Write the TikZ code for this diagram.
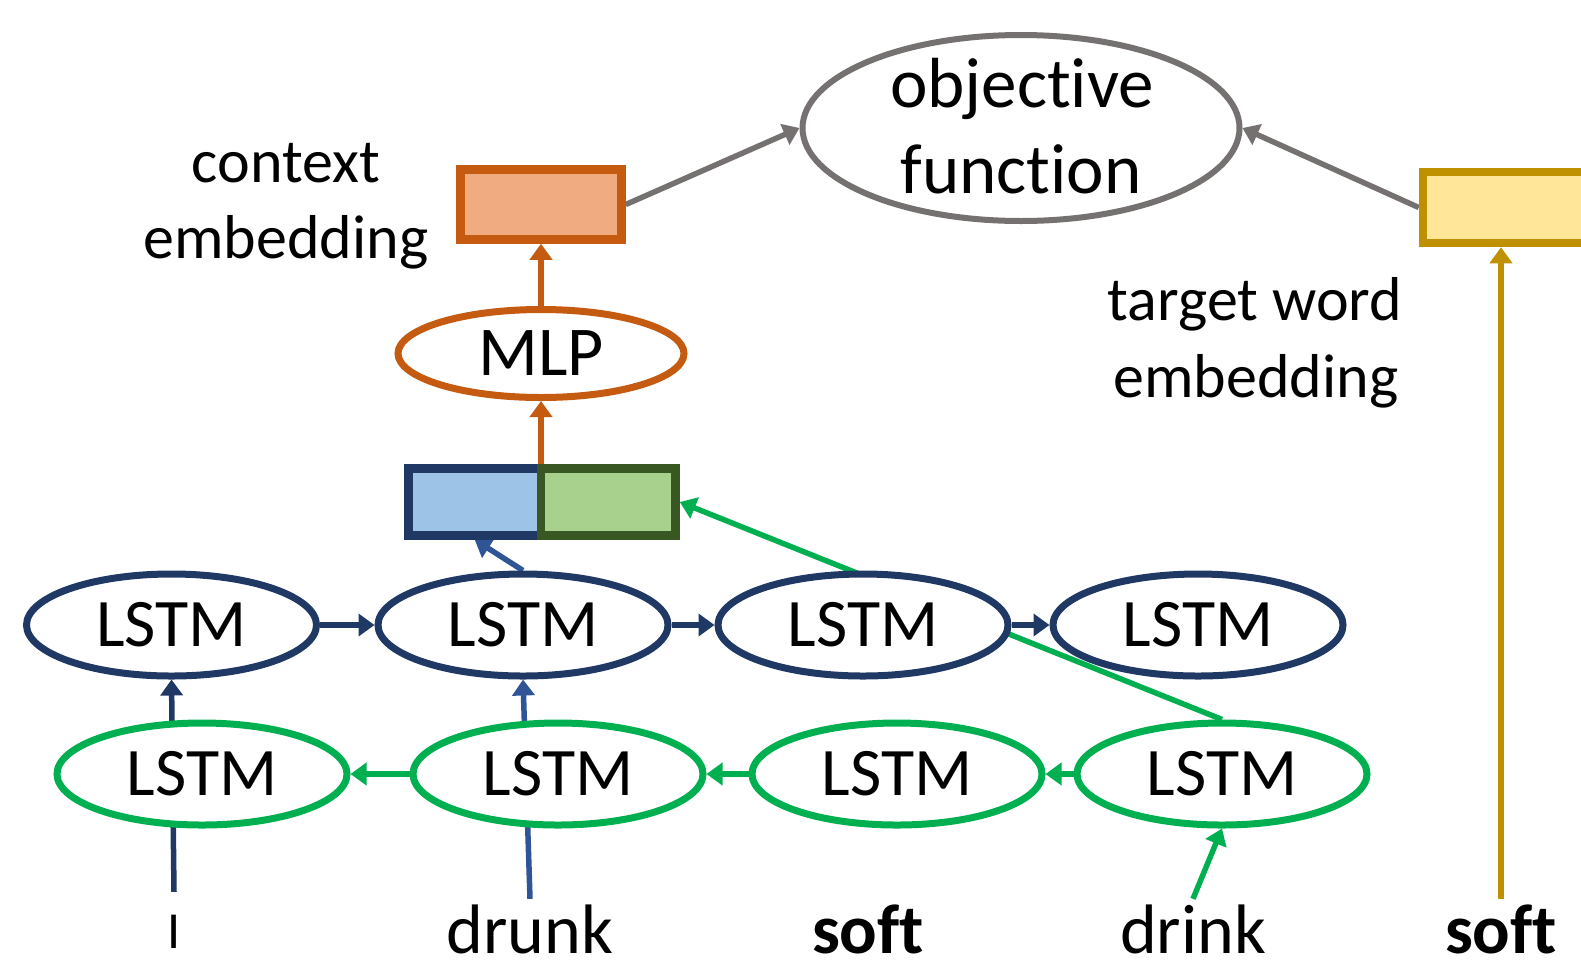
\documentclass[tikz,border=0pt]{standalone}
\usepackage{fontspec}
\setmainfont{Carlito}[Ligatures=NoCommon]
\usetikzlibrary{arrows.meta,shapes.geometric,backgrounds,calc}
\definecolor{navy}{HTML}{203864}
\definecolor{midblue}{HTML}{2F5597}
\definecolor{lgreen}{HTML}{00B050}
\definecolor{dgreen}{HTML}{385723}
\definecolor{orng}{HTML}{C55A11}
\definecolor{orngfill}{HTML}{F0AC80}
\definecolor{gry}{HTML}{767171}
\definecolor{gold}{HTML}{BF9000}
\definecolor{goldfill}{HTML}{FFE699}
\definecolor{bfill}{HTML}{9DC3E6}
\definecolor{gfill}{HTML}{A9D18E}
\begin{document}
\begin{tikzpicture}[x=1pt,y=-1pt,
  ell/.style={ellipse,draw,line width=7pt,fill=white,inner sep=0pt,
    minimum width=290pt,minimum height=102pt,font=\fontsize{68}{80}\selectfont},
  bl/.style={ell,draw=navy},
  gl/.style={ell,draw=lgreen},
  word/.style={font=\fontsize{70}{84}\selectfont,anchor=base,inner sep=6pt,text height=48pt,text depth=0pt},
  lab/.style={font=\fontsize{62}{75}\selectfont,anchor=base,inner sep=0pt},
  objlab/.style={font=\fontsize{71}{84}\selectfont,anchor=base,inner sep=0pt},
  boxs/.style={draw,line width=8.5pt,inner sep=0pt},
  arr/.style={line width=5.5pt,-{Triangle[length=16pt,width=22pt]}},
]
\clip (0,0) rectangle (1581,970);
\useasboundingbox (0,0) rectangle (1581,970);

% top
\node[ell,draw=gry,line width=6pt,minimum width=437pt,minimum height=186pt] (obj) at (1021,128) {};
\node[objlab] (obj1) at (1022,107) {objective};
\node[objlab] (obj2) at (1021,193) {function};

\node[boxs,draw=orng,fill=orngfill,minimum width=161pt,minimum height=70pt] (ctx) at (541,204.5) {};
\node[lab] (ctx1) at (286,182) {context};
\node[lab] (ctx2) at (286,258) {embedding};

\node[boxs,draw=gold,fill=goldfill,minimum width=174pt,minimum height=71pt] (ybox) at (1510,207.5) {};
\node[lab] (tw1) at (1255,320) {target word};
\node[lab] (tw2) at (1256,397) {embedding};

\node[ell,draw=orng,minimum width=286pt,minimum height=88pt,font=\fontsize{70}{84}\selectfont] (mlp) at (541,353.5) {MLP};

% concatenation
\node[boxs,draw=navy,fill=bfill,minimum width=132.5pt,minimum height=67pt] (bbox) at (474.75,502) {};
\node[boxs,draw=dgreen,fill=gfill,minimum width=134.5pt,minimum height=67pt] (gbox) at (608.25,502) {};

% LSTM rows
\node[bl] (b1) at (171.5,625) {LSTM};
\node[bl] (b2) at (523,625) {LSTM};
\node[bl] (b3) at (863,625) {LSTM};
\node[bl] (b4) at (1198,625) {LSTM};

\node[gl] (g1) at (202,774) {LSTM};
\node[gl] (g2) at (558,774) {LSTM};
\node[gl] (g3) at (897,774) {LSTM};
\node[gl] (g4) at (1222,774) {LSTM};

% words
\node[word,font=\fontsize{52}{60}\selectfont,text height=50pt] (wI) at (174,948) {I};
\node[word] (wdrunk) at (530,953) {drunk};
\node[word,font=\bfseries\fontsize{70}{84}\selectfont] (wsoft) at (868,953) {soft};
\node[word] (wdrink) at (1193,953) {drink};
\node[word,font=\bfseries\fontsize{70}{84}\selectfont] (wsoft2) at (1501,953) {soft};

\coordinate (junc) at ($(bbox.north east)!.5!(gbox.north west)$);

\begin{scope}[on background layer]
  \draw[arr,gry] (ctx.east) -- (obj.west);
  \draw[arr,gry] (ybox.west) -- (obj.east);
  \draw[arr,orng] (mlp.north) -- (ctx.south);
  \draw[arr,orng] (junc) -- (mlp.south);
  \draw[arr,midblue] (b2.north) -- (bbox.south);
  \draw[arr,lgreen] (g4.north) -- (gbox.east);
  \draw[arr,navy] (b1.east) -- (b2.west);
  \draw[arr,navy] (b2.east) -- (b3.west);
  \draw[arr,navy] (b3.east) -- (b4.west);
  \draw[arr,lgreen] (g4.west) -- (g3.east);
  \draw[arr,lgreen] (g3.west) -- (g2.east);
  \draw[arr,lgreen] (g2.west) -- (g1.east);
  \draw[arr,navy] (wI.north) -- (b1.south);
  \draw[arr,midblue] (wdrunk.north) -- (b2.south);
  \draw[arr,lgreen] (wdrink.north) -- (g4.south);
  \draw[arr,gold] (wsoft2.north) -- (wsoft2.north |- ybox.south);
\end{scope}
\end{tikzpicture}
\end{document}
